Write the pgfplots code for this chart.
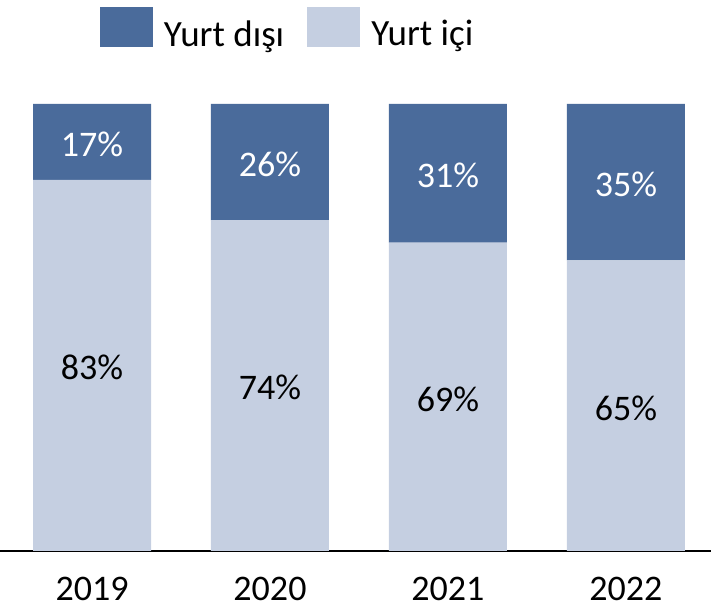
\documentclass[border=0pt]{standalone}
\usepackage{fontspec}
\setmainfont{Carlito}
\usepackage{pgfplots}
\pgfplotsset{compat=1.18}
\definecolor{dark}{HTML}{4A6B9B}
\definecolor{light}{HTML}{C5CFE1}
\newcommand\bigf{\fontsize{36bp}{42bp}\selectfont}
\begin{document}
\begin{tikzpicture}
\useasboundingbox (0,-56bp) rectangle (711bp,551bp);
\begin{axis}[
 at={(0,0)}, anchor=south west,
 scale only axis, width=711bp, height=447bp,
 xmin=-0.517, xmax=3.478, ymin=0, ymax=100,
 axis y line=none, axis x line=bottom,
 x axis line style={-, black, line width=1.5bp},
 xtick={0,1,2,3}, xticklabels={2019,2020,2021,2022},
 xtick style={draw=none}, major tick length=0pt,
 xticklabel style={font=\bigf, inner sep=0pt, anchor=north, yshift=-26bp},
 ytick=\empty,
 ybar stacked, bar width=0.663,
 legend style={at={(0.1406,1.217)}, anchor=north west, draw=none, fill=none,
   inner sep=0pt, outer sep=0pt, font=\fontsize{37bp}{42bp}\selectfont,
   legend columns=2,
   /tikz/every odd column/.style={column sep=11bp},
   /tikz/every even column/.style={column sep=23bp},
   nodes={inner sep=0pt}},
]
\addplot[fill=light, draw=none, forget plot] coordinates {(0,83) (1,74) (2,69) (3,65)};
\addplot[fill=dark, draw=none, forget plot] coordinates {(0,17) (1,26) (2,31) (3,35)};
\addlegendimage{fill=dark, draw=none, legend image code/.code={\fill[dark] (0bp,-13bp) rectangle (53bp,27bp);}}
\addlegendentry{Yurt dışı}
\addlegendimage{fill=light, draw=none, legend image code/.code={\fill[light] (0bp,-13bp) rectangle (53bp,27bp);}}
\addlegendentry{Yurt içi}
\end{axis}
\begin{axis}[
 at={(0,0)}, anchor=south west,
 scale only axis, width=711bp, height=447bp,
 xmin=-0.517, xmax=3.478, ymin=0, ymax=100,
 axis lines=none, xtick=\empty, ytick=\empty,
 nodes near coords, point meta=explicit symbolic,
 every node near coord/.style={font=\bigf, anchor=center, inner sep=0pt},
]
\addplot[only marks, mark=none, every node near coord/.append style={text=black}]
  coordinates {(0,41)[83\%] (1,36.5)[74\%] (2,34)[69\%] (3,32)[65\%]};
\addplot[only marks, mark=none, every node near coord/.append style={text=white}]
  coordinates {(0,91)[17\%] (1,86.5)[26\%] (2,84)[31\%] (3,82)[35\%]};
\end{axis}
\end{tikzpicture}
\end{document}
